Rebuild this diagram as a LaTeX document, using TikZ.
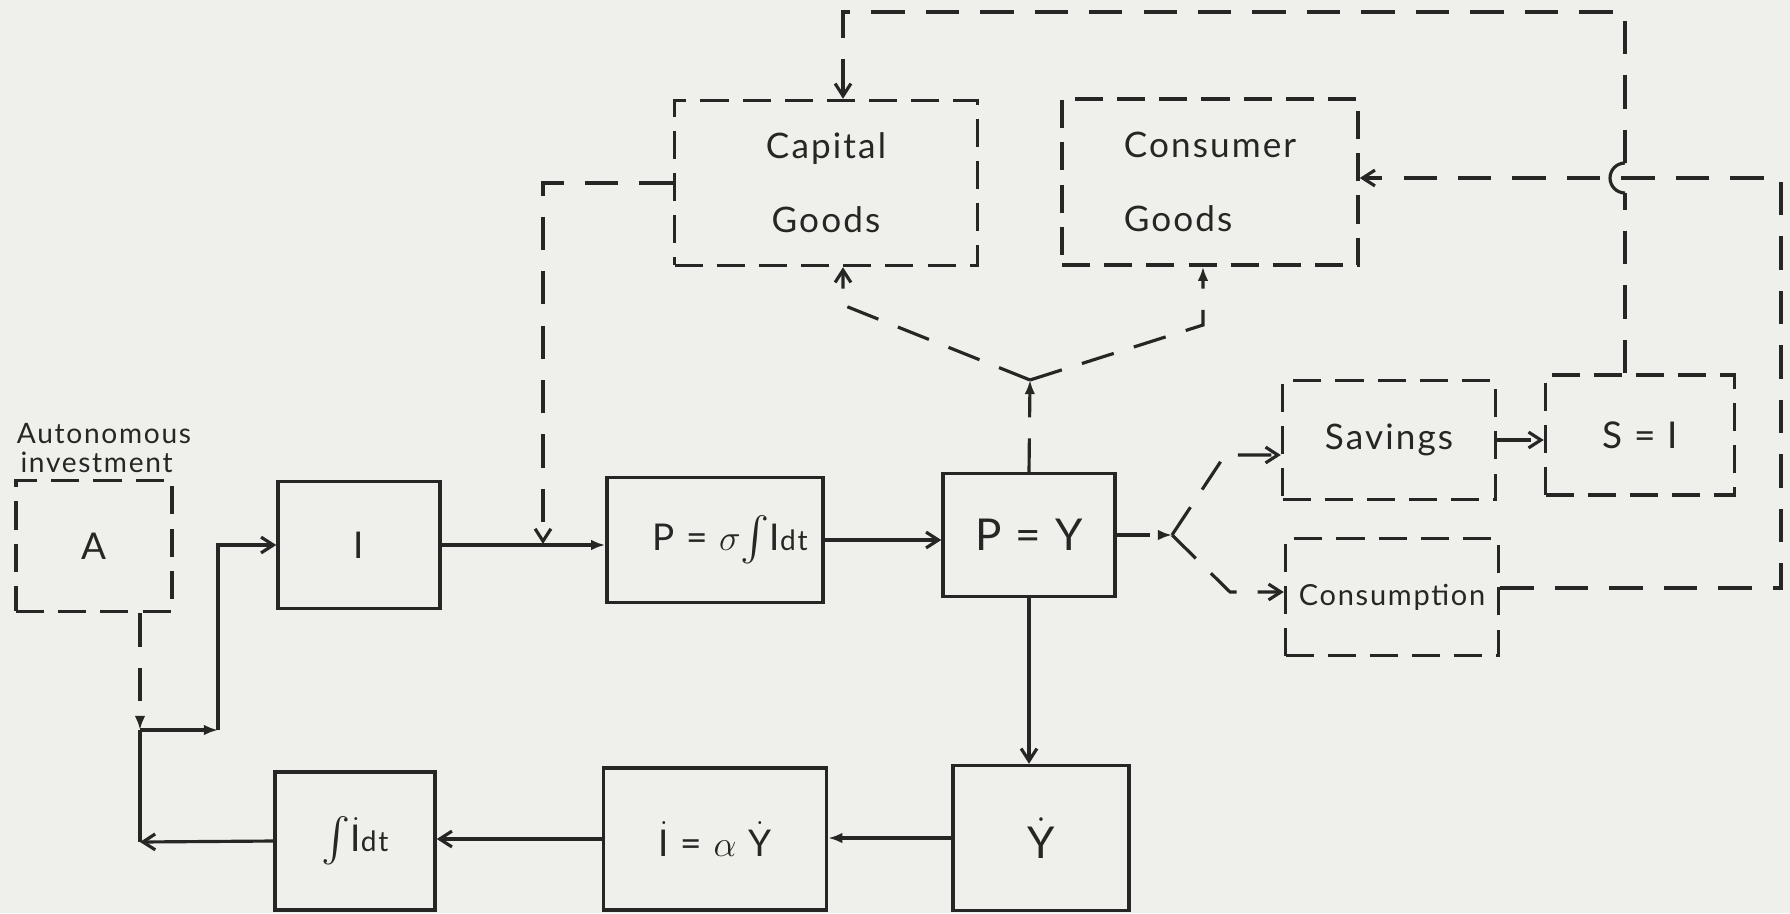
\documentclass[tikz,border=0pt]{standalone}
\usepackage{amsmath}
\usepackage{fontspec}
\setmainfont{Lato}[LetterSpace=6]
\usetikzlibrary{arrows.meta}
\definecolor{paper}{RGB}{239,239,235}
\definecolor{ink}{RGB}{38,38,36}
\newcommand{\tallint}{{\fontsize{30}{30}\selectfont$\int$}}
\newcommand{\dotup}[1]{$\dot{\text{#1}}$}
\newcommand{\dtsmall}{{\fontsize{16}{16}\selectfont dt}}
\tikzset{
  barb/.tip={Straight Barb[length=7pt,width=9pt]},
  dart/.tip={Latex[length=8pt,width=6pt]},
  box/.style={draw=ink,line width=2pt,inner sep=0pt},
  dbox/.style={box,dash pattern=on 16pt off 8pt},
  link/.style={draw=ink,line width=1.8pt},
  dlink/.style={link,dash pattern=on 19pt off 12pt},
  sym/.style={font=\fontsize{21}{24}\selectfont},
  word/.style={font=\fontsize{20}{24}\selectfont},
}

\begin{document}
\begin{tikzpicture}[x=0.02cm,y=-0.02cm,>=barb,ink]
\fill[paper](0,0)rectangle(1790,913);
\useasboundingbox(0,0)rectangle(1790,913);

\node[word,font=\fontsize{16}{16}\selectfont,align=left](lab)at(104,448){Autonomous\\\hspace*{2pt}investment};
\node[dbox,sym,minimum width=3.12cm,minimum height=2.62cm](A)at(94,546){A};
\node[box,sym,minimum width=3.24cm,minimum height=2.54cm](I)at(359,545){I};
\node[box,sym,minimum width=4.32cm,minimum height=2.5cm](Pint)at(715,540){\hspace*{0.6cm}P = $\sigma$\tallint I\dtsmall};
\node[box,sym,font=\fontsize{25}{28}\selectfont,minimum width=3.44cm,minimum height=2.46cm](PY)at(1029,535){P = Y};
\node[box,sym,font=\fontsize{25}{28}\selectfont,minimum width=3.52cm,minimum height=2.9cm](Ydot)at(1041,838){\dotup{Y}};
\node[box,sym,minimum width=4.46cm,minimum height=2.84cm](Idot)at(715,839){\dotup{I} = $\alpha$ \dotup{Y}};
\node[box,sym,minimum width=3.2cm,minimum height=2.76cm](IntI)at(355,841){\tallint\dotup{I}\dtsmall};
\node[dbox,word,align=center,minimum width=6.06cm,minimum height=3.3cm](Cap)at(826,183){Capital\\[18pt]Goods};
\node[dbox,word,align=left,minimum width=5.92cm,minimum height=3.32cm](Con)at(1210,182){Consumer\\[18pt]Goods};
\node[dbox,word,minimum width=4.26cm,minimum height=2.38cm](Sav)at(1389,440){Savings};
\node[dbox,sym,minimum width=3.78cm,minimum height=2.4cm](SI)at(1640,435){S = I};
\node[dbox,word,font=\fontsize{16.5}{18}\selectfont,minimum width=4.26cm,minimum height=2.34cm](Cons)at(1392,597){Consumption};

\coordinate(J)at(140,730);
\coordinate(J2)at(218,730);
\coordinate(K)at(140,842);
\coordinate(M)at(543,544);
\coordinate(F1)at(1030,380);
\coordinate(F2)at(1172,535);
\coordinate(C1)at(843,305);
\coordinate(C2)at(1203,325);
\coordinate(S1)at(1225,455);
\coordinate(S2)at(1230,592);
\coordinate(T1)at(1625,12);
\coordinate(T2)at(843,12);
\coordinate(H)at(1625,178);
\coordinate(R1)at(1781,588);
\coordinate(R2)at(1781,178);

\draw[dlink,-dart](A.south-|J)--(J);
\draw[link,-dart](J)--(J2);
\draw[link,->](J2)|-(I.west);
\draw[link,->](IntI.west)--(K);
\draw[link](K)--(J);
\draw[link,-dart](I.east)--(I.east-|Pint.west);
\draw[dlink,->](Cap.west)-|(M);
\draw[link,->](Pint.east)--(Pint.east-|PY.west);
\draw[link,->](PY.south)--(PY.south|-Ydot.north);
\draw[link,-dart](Ydot.west)--(Ydot.west-|Idot.east);
\draw[link,->](Idot.west)--(Idot.west-|IntI.east);

\draw[dlink,-dart](PY.north)--(F1);
\draw[dlink,->](F1)--(C1)--(C1|-Cap.south);
\draw[dlink,-dart](F1)--(C2)--(C2|-Con.south);
\draw[dlink,-dart](PY.east)--(F2);
\draw[dlink,->](F2)--(S1)--(S1-|Sav.west);
\draw[dlink,->](F2)--(S2)--(S2-|Cons.west);
\draw[dlink,->](Sav.east)--(Sav.east-|SI.west);

\draw[dlink](SI.north-|T1)--([yshift=-0.3cm]H);
\draw[link]([yshift=-0.3cm]H)arc[start angle=-90,end angle=-270,radius=0.3cm];
\draw[dlink,->]([yshift=0.3cm]H)--(T1)--(T2)--(T2|-Cap.north);
\draw[dlink,->](R1-|Cons.east)--(R1)--(R2)--(R2-|Con.east);
\end{tikzpicture}
\end{document}
